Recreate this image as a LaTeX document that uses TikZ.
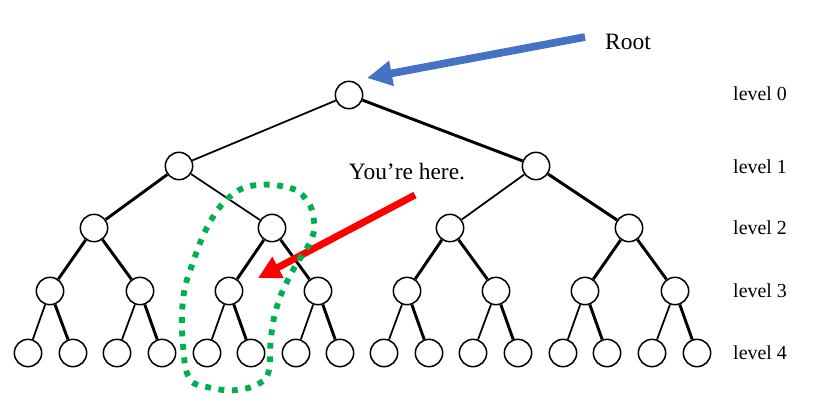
\documentclass[tikz,border=0pt]{standalone}
\usepackage{fontspec}
\setmainfont{Liberation Serif}
\usepackage{tikz}
\usetikzlibrary{positioning, arrows.meta, calc}
\definecolor{rootblue}{HTML}{4472C4}
\definecolor{herered}{HTML}{FF0000}
\definecolor{ringgreen}{HTML}{00B050}

\begin{document}
\begin{tikzpicture}[x=0.3mm, y=-0.3mm,
  vert/.style={circle, draw, line width=1.3pt, minimum size=8.2mm, inner sep=0pt},
  thinedge/.style={line width=1.5pt},
  thickedge/.style={line width=2.5pt},
  lvl/.style={anchor=west, inner sep=0pt, font=\fontsize{17}{20}\selectfont},
  callout/.style={inner sep=0pt, font=\fontsize{20}{24}\selectfont},
  rootarrow/.style={draw=rootblue, line width=2.3mm, -{Triangle[length=7.5mm, width=7.2mm]}},
  herearrow/.style={draw=herered, line width=2.1mm, -{Triangle[length=6.8mm, width=6.8mm]}},
  herering/.style={draw=ringgreen, line width=5pt, dash pattern=on 5pt off 6.5pt},
  ]
  \useasboundingbox (0,0) rectangle (833,407);

  \node[vert] (r) at (349,95) {};
  \node[vert] (a) at (179,166) {};
  \node[vert] (b) at (536,166) {};
  \node[vert] (aa) at (94,228) {};
  \node[vert] (ab) at (272,228) {};
  \node[vert] (ba) at (450,228) {};
  \node[vert] (bb) at (629,228) {};
  \node[vert] (aaa) at (50,291) {};
  \node[vert] (aab) at (140,291) {};
  \node[vert] (aba) at (229,291) {};
  \node[vert] (abb) at (318,291) {};
  \node[vert] (baa) at (407,291) {};
  \node[vert] (bab) at (496,291) {};
  \node[vert] (bba) at (585,291) {};
  \node[vert] (bbb) at (675,291) {};
  \node[vert] (aaaa) at (28,353) {};
  \node[vert] (aaab) at (73,353) {};
  \node[vert] (aaba) at (117,353) {};
  \node[vert] (aabb) at (162,353) {};
  \node[vert] (abaa) at (207,353) {};
  \node[vert] (abab) at (251,353) {};
  \node[vert] (abba) at (296,353) {};
  \node[vert] (abbb) at (340,353) {};
  \node[vert] (baaa) at (384,353) {};
  \node[vert] (baab) at (429,353) {};
  \node[vert] (baba) at (473,353) {};
  \node[vert] (babb) at (518,353) {};
  \node[vert] (bbaa) at (563,353) {};
  \node[vert] (bbab) at (607,353) {};
  \node[vert] (bbba) at (652,353) {};
  \node[vert] (bbbb) at (697,353) {};

  \node[lvl] (lvl0) at (733,94) {level 0};
  \node[lvl] (lvl1) at (733,167) {level 1};
  \node[lvl] (lvl2) at (733,228) {level 2};
  \node[lvl] (lvl3) at (733,291) {level 3};
  \node[lvl] (lvl4) at (733,353) {level 4};

  \node[callout] (rootlbl) at (628,42) {Root};
  \node[callout] (herelbl) at (407,172) {You’re here.};

  \path[thinedge]
    (r) edge (a)
    (a) edge (ab)
    (b) edge (ba)
    (aaa) edge (aaaa) (aab) edge (aaba) (aba) edge (abaa) (abb) edge (abba)
    (baa) edge (baaa) (bab) edge (baba) (bba) edge (bbaa) (bbb) edge (bbba);
  \path[thickedge]
    (r) edge (b)
    (a) edge (aa)
    (b) edge (bb)
    (aa) edge (aaa) (aa) edge (aab) (ab) edge (aba) (ab) edge (abb)
    (ba) edge (baa) (ba) edge (bab) (bb) edge (bba) (bb) edge (bbb)
    (aaa) edge (aaab) (aab) edge (aabb) (aba) edge (abab) (abb) edge (abbb)
    (baa) edge (baab) (bab) edge (babb) (bba) edge (bbab) (bbb) edge (bbbb);

  \coordinate (rootfrom) at (585,37);
  \coordinate (roottip) at (367,78);
  \coordinate (herefrom) at (415,195);
  \coordinate (heretip) at (258,278);
  \draw[rootarrow] (rootfrom) -- (roottip);
  \draw[herearrow] (herefrom) -- (heretip);

  \draw[herering] plot[smooth cycle, tension=0.7] coordinates {(257,185) (290,188) (305,198) (313,215) (312,238) (293,270) (278,303) (271,337) (269,370) (260,383) (237,390) (212,388) (190,379) (183,345) (183,300) (192,265) (210,222) (232,195)};
\end{tikzpicture}
\end{document}
